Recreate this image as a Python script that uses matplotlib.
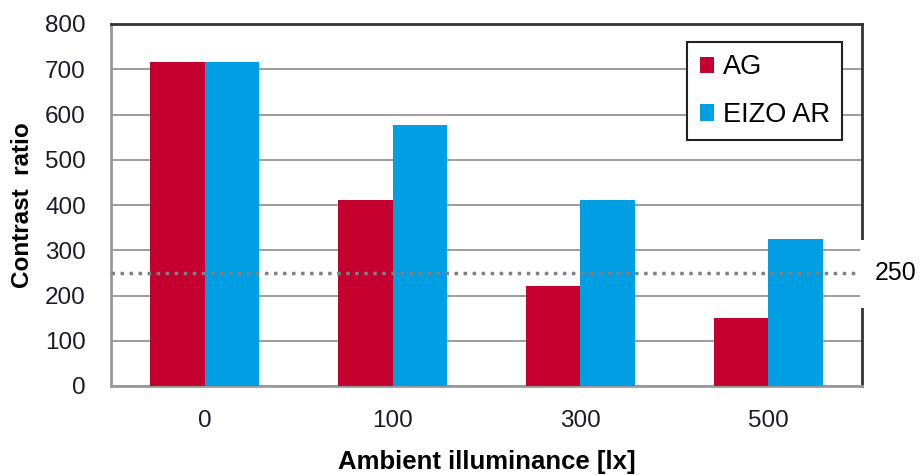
import matplotlib.pyplot as plt
import matplotlib.patches as mpatches
import numpy as np

plt.rcParams['font.family'] = ['Liberation Sans', 'DejaVu Sans']

categories = ['0', '100', '300', '500']
ag = [716, 411, 221, 151]
eizo = [716, 576, 411, 324]
threshold = 250

x = np.arange(len(categories))
w = 0.29

fig = plt.figure(figsize=(9.24, 4.75), dpi=100)
ax = fig.add_axes([111/924, 1 - 386/475, 751/924, 362/475])

ax.bar(x - w/2, ag, w, color='#C4002F', label='AG', zorder=3)
ax.bar(x + w/2, eizo, w, color='#009FE3', label='EIZO AR', zorder=3)

ax.axhline(threshold, color='#808080', lw=2.5, ls=(0, (1, 1.6)), zorder=4)
ax.text(3.57, threshold, '250', fontsize=18, va='center', ha='left', color='black')

# white break in right border behind the 250 label
gap = mpatches.Rectangle((860/924, 1 - 308/475), 7/924, 68/475, transform=fig.transFigure,
                         facecolor='white', edgecolor='none', zorder=10)
fig.patches.append(gap)

ax.set_xlim(-0.5, 3.5)
ax.set_ylim(0, 800)
ax.set_yticks(range(0, 801, 100))
ax.set_xticks(x)
ax.set_xticklabels(categories)
ax.tick_params(length=0, labelsize=17.5, colors='#1a1a2a')
ax.tick_params(axis='y', pad=18)
ax.tick_params(axis='x', pad=17)
ax.yaxis.grid(True, color='#8c8c8c', lw=1.2, zorder=0)

for s in ['top', 'right']:
    ax.spines[s].set_color('#333333')
    ax.spines[s].set_linewidth(2)
for s in ['left', 'bottom']:
    ax.spines[s].set_color('#999999')
    ax.spines[s].set_linewidth(2)

ax.set_ylabel('Contrast  ratio', fontsize=17.5, fontweight='bold', labelpad=8)
ax.set_xlabel('Ambient illuminance [lx]', fontsize=18.5, fontweight='bold', labelpad=13)

leg = ax.legend(loc='upper right', bbox_to_anchor=(0.973, 0.95), fontsize=19.5,
                frameon=True, fancybox=False, edgecolor='#222222',
                handlelength=0.55, handleheight=0.55, handletextpad=0.3,
                labelspacing=0.8, borderpad=0.45, borderaxespad=0)
leg.get_frame().set_linewidth(1.5)
leg.get_frame().set_alpha(1)

fig.savefig('out.png', dpi=100)
